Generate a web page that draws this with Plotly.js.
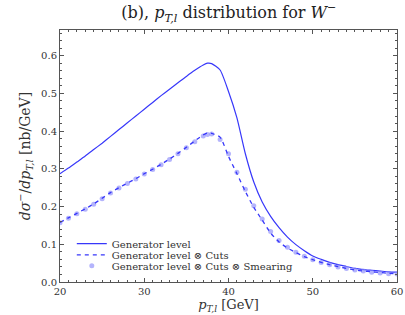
<!DOCTYPE html>
<html>
<head>
<meta charset="utf-8">
<script src="https://cdn.plot.ly/plotly-3.0.1.min.js"></script>
<style>html,body{margin:0;padding:0;background:#fff;}#chart{width:405px;height:315px;}</style>
</head>
<body>
<div id="chart"></div>
<script>
const pt = [20,21,22,23,24,25,26,27,28,29,30,31,32,33,34,35,36,37,37.5,38,39,40,41,42,43,44,45,46,47,48,49,50,51,52,53,54,55,56,57,58,59,60];
const genLevel = [0.287,0.302,0.318,0.334,0.351,0.368,0.386,0.404,0.422,0.440,0.458,0.476,0.494,0.511,0.528,0.545,0.561,0.575,0.580,0.579,0.562,0.505,0.435,0.340,0.265,0.212,0.174,0.144,0.119,0.099,0.083,0.069,0.060,0.052,0.046,0.041,0.036,0.033,0.031,0.029,0.027,0.026];
const genCuts = [0.158,0.170,0.182,0.194,0.207,0.222,0.237,0.250,0.262,0.274,0.287,0.299,0.312,0.326,0.341,0.357,0.374,0.390,0.395,0.394,0.384,0.333,0.287,0.240,0.198,0.164,0.130,0.106,0.090,0.078,0.067,0.059,0.052,0.046,0.041,0.036,0.032,0.029,0.027,0.025,0.023,0.022];
const genCutsSmear = [0.157,0.169,0.181,0.193,0.206,0.221,0.236,0.249,0.261,0.273,0.286,0.298,0.311,0.325,0.340,0.356,0.372,0.387,0.391,0.392,0.378,0.340,0.291,0.246,0.202,0.167,0.134,0.110,0.092,0.079,0.068,0.059,0.052,0.046,0.040,0.036,0.032,0.029,0.026,0.024,0.022,0.021];
const seriesNames = ["Generator level","Generator level ⊗ Cuts","Generator level ⊗ Cuts ⊗ Smearing"];

const serif = "DejaVu Serif";
const blue = "rgb(55,55,250)";

const traces = [
  {x: pt, y: genLevel, name: seriesNames[0], mode: "lines", type: "scatter", legend: "legend",
   line: {color: blue, width: 1.2, shape: "spline", smoothing: 0.6}},
  {x: pt, y: genCutsSmear, name: seriesNames[2], mode: "markers", type: "scatter", legend: "legend3",
   marker: {color: "rgba(140,140,250,0.65)", size: 5}},
  {x: pt, y: genCuts, name: seriesNames[1], mode: "lines", type: "scatter", legend: "legend2",
   line: {color: blue, width: 1.3, dash: "4px,4px", shape: "spline", smoothing: 0.6}}
];

const axisCommon = {
  showgrid: false, zeroline: false, showline: true, linecolor: "#555", linewidth: 1,
  mirror: "allticks", ticks: "inside", ticklen: 4, tickcolor: "#555", tickwidth: 1,
  tickfont: {family: serif, size: 10, color: "#333"}
};

function leg(y) {
  return {x: 0.035, y: y, xanchor: "left", yanchor: "middle",
          bgcolor: "rgba(0,0,0,0)", borderwidth: 0,
          font: {family: serif, size: 10, color: "#333"}, itemwidth: 30};
}

const layout = {
  width: 405, height: 315,
  margin: {l: 60, r: 8, t: 30, b: 33},
  paper_bgcolor: "#fff", plot_bgcolor: "#fff",
  showlegend: true,
  font: {family: serif},
  title: {text: "(b), <i>p</i><sub><i>T,l</i></sub> distribution for <i>W</i><sup>−</sup>",
          font: {family: serif, size: 16, color: "#222"}, x: 0.565, xanchor: "center", y: 0.96, yanchor: "middle"},
  xaxis: Object.assign({}, axisCommon, {
    range: [20, 60], dtick: 10, tick0: 20,
    minor: {dtick: 1, ticks: "inside", ticklen: 2, tickcolor: "#555"},
    title: {text: "<i>p</i><sub><i>T,l</i></sub> [GeV]", font: {family: serif, size: 13, color: "#333"}, standoff: 2}
  }),
  yaxis: Object.assign({}, axisCommon, {
    range: [0, 0.668], dtick: 0.1, tick0: 0, tickformat: ".1f",
    minor: {dtick: 0.02, ticks: "inside", ticklen: 2, tickcolor: "#555"},
    title: {text: "<i>dσ</i><sup>−</sup>/<i>dp</i><sub><i>T,l</i></sub> [nb/GeV]", font: {family: serif, size: 14, color: "#333"}, standoff: 7}
  }),
  legend: leg(0.152),
  legend2: leg(0.108),
  legend3: leg(0.064)
};

Plotly.newPlot("chart", traces, layout, {displayModeBar: false, staticPlot: true});
</script>
</body>
</html>
